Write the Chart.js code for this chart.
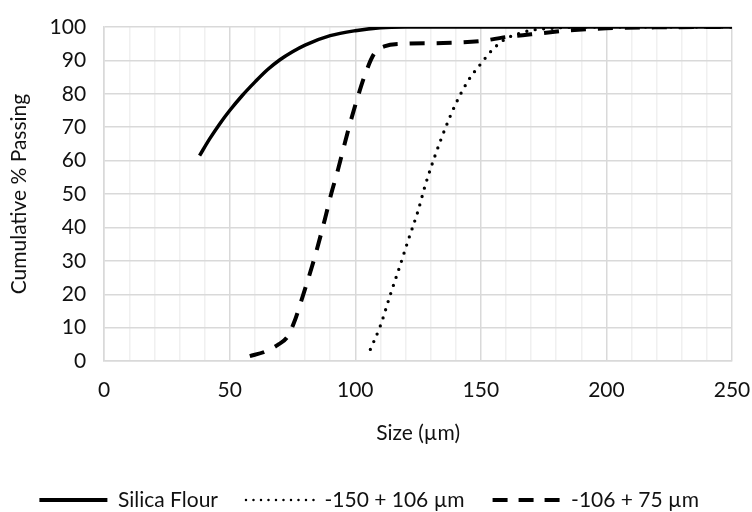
<!DOCTYPE html>
<html>
<head>
<meta charset="utf-8">
<script src="https://cdn.jsdelivr.net/npm/chart.js@4.4.1/dist/chart.umd.min.js"></script>
<style>
  html, body { margin: 0; padding: 0; background: #fff; }
  #wrap { width: 752px; height: 512px; }
</style>
</head>
<body>
<div id="wrap"><canvas id="psdChart" width="752" height="512"></canvas></div>
<script>
// series data (size in um, cumulative % passing)
var silicaX = [38, 42, 46, 50, 55, 60, 65, 70, 75, 80, 90, 100, 110, 120, 150, 200, 250];
var silicaY = [61.5, 66.5, 71, 75, 79.5, 83.5, 87.2, 90.2, 92.6, 94.6, 97.4, 98.9, 99.8, 100, 100, 100, 100];

var coarseX = [106, 110, 114, 118, 121, 125, 128, 132, 136, 140, 145, 150, 155, 160, 165, 170, 180, 190, 200, 250];
var coarseY = [3.5, 10.6, 20, 29, 36, 45, 53, 62, 70, 77, 84, 89, 93.5, 96.5, 98, 99, 99.7, 100, 100, 100];

var mediumX = [58, 64, 69, 73, 75.5, 79, 83.5, 87.5, 90.5, 93, 97.5, 101, 104, 107.5, 111.5, 120, 135, 150, 160, 170, 185, 200, 220, 250];
var mediumY = [1.5, 2.8, 4.8, 7.3, 11.3, 19.2, 30.2, 41.3, 50.3, 57, 70, 79.1, 86, 92, 94.2, 95, 95.2, 95.8, 97, 97.8, 99, 99.6, 99.9, 100];

var seriesNames = ['Silica Flour', '-150 + 106 \u00b5m', '-106 + 75 \u00b5m'];
var xTicks = [0, 50, 100, 150, 200, 250];

function toPoints(xs, ys) {
    var pts = [];
    for (var i = 0; i < xs.length; i++) pts.push({x: xs[i], y: ys[i]});
    return pts;
}

var txt = '#111';
Chart.defaults.font.family = "'Lato', 'Open Sans', sans-serif";
Chart.defaults.font.size = 21;
Chart.defaults.color = txt;

// legend line styles
var legendDash = [[], [0, 7.5], [15, 11]];
var legendWidth = [4, 2.5, 4];
var legendCap = ['butt', 'round', 'butt'];

var ctx = document.getElementById('psdChart').getContext('2d');
var chart = new Chart(ctx, {
    type: 'scatter',
    data: {
        datasets: [
            {
                label: seriesNames[0],
                data: toPoints(silicaX, silicaY),
                showLine: true,
                borderColor: '#000',
                backgroundColor: '#000',
                borderWidth: 3.5,
                pointRadius: 0,
                cubicInterpolationMode: 'monotone'
            },
            {
                label: seriesNames[1],
                data: toPoints(coarseX, coarseY),
                showLine: true,
                borderColor: '#000',
                backgroundColor: '#000',
                borderWidth: 3.3,
                borderDash: [0, 8.5],
                borderCapStyle: 'round',
                pointRadius: 0,
                cubicInterpolationMode: 'monotone'
            },
            {
                label: seriesNames[2],
                data: toPoints(mediumX, mediumY),
                showLine: true,
                borderColor: '#000',
                backgroundColor: '#000',
                borderWidth: 4,
                borderDash: [15, 12],
                pointRadius: 0,
                cubicInterpolationMode: 'monotone'
            }
        ]
    },
    options: {
        responsive: false,
        animation: false,
        layout: { padding: { left: 6.4, right: 20, top: 27, bottom: 0 } },
        scales: {
            x: {
                type: 'linear',
                min: 0,
                max: 250,
                afterFit: function(s) { s.paddingLeft = 0; s.paddingRight = 0; },
                ticks: {
                    stepSize: 10,
                    autoSkip: false,
                    maxRotation: 0,
                    color: txt,
                    padding: 17,
                    callback: function(v) { return xTicks.indexOf(v) >= 0 ? v : ''; }
                },
                grid: {
                    color: function(c) { return c.tick && c.tick.value % 50 === 0 ? '#d9d9d9' : '#f0f0f0'; },
                    lineWidth: 1.5,
                    drawTicks: false
                },
                border: { color: '#d9d9d9', width: 1.5 },
                title: { display: true, text: 'Size (\u00b5m)', color: txt, padding: { top: 0, bottom: 16 } }
            },
            y: {
                min: 0,
                max: 100,
                afterFit: function(s) { s.paddingTop = 0; s.paddingBottom = 0; },
                ticks: { stepSize: 10, color: txt, padding: 18 },
                grid: { color: '#d9d9d9', lineWidth: 1.5, drawTicks: false },
                border: { color: '#d9d9d9', width: 1.5 },
                title: { display: true, text: 'Cumulative % Passing', color: txt, padding: 0 }
            }
        },
        plugins: {
            tooltip: { enabled: false },
            legend: {
                position: 'bottom',
                labels: {
                    usePointStyle: true,
                    pointStyle: 'line',
                    pointStyleWidth: 68,
                    padding: 28,
                    color: txt,
                    generateLabels: function(ch) {
                        var items = Chart.defaults.plugins.legend.labels.generateLabels(ch);
                        items.forEach(function(it, i) {
                            it.lineDash = legendDash[i];
                            it.lineWidth = legendWidth[i];
                            it.lineCap = legendCap[i];
                            it.strokeStyle = '#000';
                            it.pointStyle = 'line';
                        });
                        return items;
                    }
                }
            }
        }
    },
    plugins: [{
        id: 'legendHeight',
        afterInit: function(ch) {
            var lg = ch.legend;
            var fit = lg.fit;
            lg.fit = function() { fit.call(this); this.height = 50.5; };
        }
    }]
});
</script>
</body>
</html>
